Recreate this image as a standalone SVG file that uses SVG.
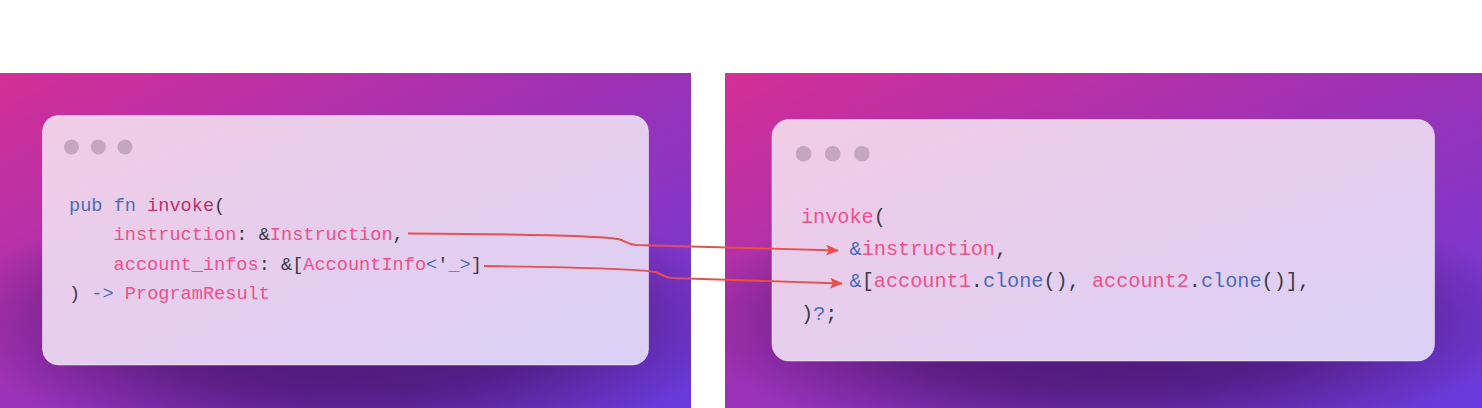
<svg xmlns="http://www.w3.org/2000/svg" width="1482" height="408" viewBox="0 0 1482 408">
  <defs>
    <linearGradient id="bg" x1="0" y1="0" x2="1" y2="1">
      <stop offset="0" stop-color="#d42f96"/>
      <stop offset="0.5" stop-color="#9a32b8"/>
      <stop offset="1" stop-color="#663adc"/>
    </linearGradient>
    <linearGradient id="card" x1="0" y1="0" x2="1" y2="1">
      <stop offset="0" stop-color="#f1cce6"/>
      <stop offset="1" stop-color="#dad0f6"/>
    </linearGradient>
    <radialGradient id="shadeGrad" cx="0.5" cy="0.5" r="0.5">
      <stop offset="0" stop-color="#3a0f5e" stop-opacity="0.85"/>
      <stop offset="0.55" stop-color="#3a0f5e" stop-opacity="0.6"/>
      <stop offset="1" stop-color="#3a0f5e" stop-opacity="0"/>
    </radialGradient>
    <clipPath id="clipL"><rect x="0" y="73" width="691" height="335"/></clipPath>
    <clipPath id="clipR"><rect x="725" y="73" width="757" height="335"/></clipPath>
    <marker id="arrow" viewBox="0 0 13 11" refX="12" refY="5.5" markerWidth="13" markerHeight="11" markerUnits="userSpaceOnUse" orient="auto">
      <path d="M0,0 L13,5.5 L0,11 L3,5.5 z" fill="#e8504e"/>
    </marker>
  </defs>
  <style>
    .code { font-family: "Liberation Mono", "DejaVu Sans Mono", monospace; }
    .l { font-size: 18.6px; }
    .r { font-size: 20.2px; }
    .k { fill: #4a6cb8; }
    .p { fill: #f0508a; }
    .f { fill: #c0306a; }
    .d { fill: #3c3a48; }
    .dot { fill: #c4a6c0; }
    .cardbox { fill: url(#card); stroke: #ffffff; stroke-opacity: 0.45; stroke-width: 1; }
    .shade { fill: url(#shadeGrad); }
    .conn { fill: none; stroke: #e8504e; stroke-width: 1.8; }
  </style>
  <rect x="0" y="0" width="1482" height="408" fill="#ffffff"/>

  <g id="left-panel">
    <rect x="0" y="73" width="691" height="335" fill="url(#bg)"/>
    <g clip-path="url(#clipL)">
      <ellipse class="shade" cx="350" cy="320" rx="390" ry="140"/>
    </g>
    <rect class="cardbox" x="42.5" y="115.5" width="606" height="249.5" rx="16"/>
    <circle class="dot" cx="71.5" cy="147" r="7.5"/>
    <circle class="dot" cx="98.3" cy="147" r="7.5"/>
    <circle class="dot" cx="125" cy="147" r="7.5"/>
    <text class="code l" x="69" y="211"><tspan class="k">pub fn </tspan><tspan class="f">invoke</tspan><tspan class="d">(</tspan></text>
    <text class="code l" x="113.6" y="240" xml:space="preserve"><tspan class="p">instruction</tspan><tspan class="d">: &amp;</tspan><tspan class="p">Instruction</tspan><tspan class="d">,</tspan></text>
    <text class="code l" x="113.6" y="270" xml:space="preserve"><tspan class="p">account_infos</tspan><tspan class="d">: &amp;[</tspan><tspan class="p">AccountInfo</tspan><tspan class="k">&lt;</tspan><tspan class="d">'</tspan><tspan class="p">_</tspan><tspan class="k">&gt;</tspan><tspan class="d">]</tspan></text>
    <text class="code l" x="69" y="299" xml:space="preserve"><tspan class="d">) </tspan><tspan class="k">-&gt; </tspan><tspan class="p">ProgramResult</tspan></text>
  </g>

  <g id="right-panel">
    <rect x="725" y="73" width="757" height="335" fill="url(#bg)"/>
    <g clip-path="url(#clipR)">
      <ellipse class="shade" cx="1105" cy="318" rx="420" ry="135"/>
    </g>
    <rect class="cardbox" x="772" y="119.5" width="662.5" height="241.5" rx="17"/>
    <circle class="dot" cx="803.6" cy="153.7" r="7.8"/>
    <circle class="dot" cx="832.7" cy="153.7" r="7.8"/>
    <circle class="dot" cx="861.9" cy="153.7" r="7.8"/>
    <text class="code r" x="801" y="223"><tspan class="p">invoke</tspan><tspan class="d">(</tspan></text>
    <text class="code r" x="849.6" y="255" xml:space="preserve"><tspan class="k">&amp;</tspan><tspan class="p">instruction</tspan><tspan class="d">,</tspan></text>
    <text class="code r" x="849.6" y="287" xml:space="preserve"><tspan class="k">&amp;</tspan><tspan class="d">[</tspan><tspan class="p">account1</tspan><tspan class="d">.</tspan><tspan class="k">clone</tspan><tspan class="d">(), </tspan><tspan class="p">account2</tspan><tspan class="d">.</tspan><tspan class="k">clone</tspan><tspan class="d">()],</tspan></text>
    <text class="code r" x="801" y="320"><tspan class="d">)</tspan><tspan class="k">?</tspan><tspan class="d">;</tspan></text>
  </g>

  <g id="connectors">
    <path class="conn" d="M408,233.5 C500,234 600,236 618,239 C624,240 626,244 636,245 L838,250.5" marker-end="url(#arrow)"/>
    <path class="conn" d="M484,266 C560,267 640,269 655,272 C660,273 662,277 672,278 L842,283.5" marker-end="url(#arrow)"/>
  </g>
</svg>
